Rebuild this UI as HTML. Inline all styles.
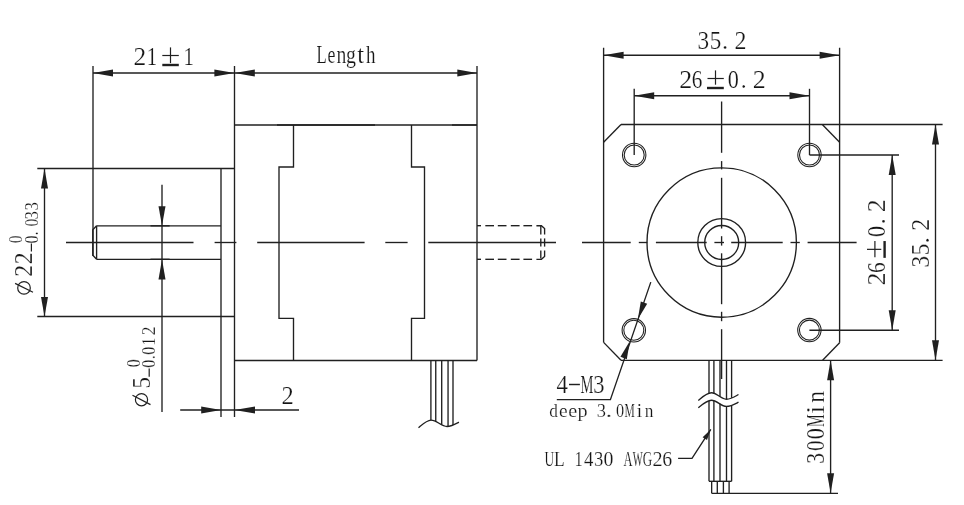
<!DOCTYPE html>
<html><head><meta charset="utf-8"><style>
html,body{margin:0;padding:0;background:#fff;width:964px;height:505px;overflow:hidden}
svg{display:block;filter:grayscale(1)}
text{font-family:"Liberation Serif",serif;fill:#151515;stroke:#fff;stroke-width:0.2px}
.m{font-family:"Liberation Mono",monospace}
</style></head><body>
<svg width="964" height="505" viewBox="0 0 964 505">
<rect width="964" height="505" fill="#fff"/>
<g stroke="#231f20" fill="none" stroke-linecap="butt">
<line x1="93" y1="66" x2="93" y2="256" stroke-width="1.35" />
<line x1="234.5" y1="66" x2="234.5" y2="417" stroke-width="1.35" />
<line x1="477" y1="66" x2="477" y2="360.5" stroke-width="1.35" />
<line x1="93" y1="73" x2="477" y2="73" stroke-width="1.35" />
<polygon points="93.00,73.00 113.00,69.50 113.00,76.50" fill="#231f20" stroke="none"/>
<polygon points="234.50,73.00 214.40,76.50 214.40,69.50" fill="#231f20" stroke="none"/>
<polygon points="234.50,73.00 254.80,69.50 254.80,76.50" fill="#231f20" stroke="none"/>
<polygon points="477.00,73.00 457.30,76.50 457.30,69.50" fill="#231f20" stroke="none"/>
<line x1="234.5" y1="125" x2="477" y2="125" stroke-width="1.35" />
<line x1="234.5" y1="360.5" x2="477" y2="360.5" stroke-width="1.35" />
<path d="M293.5,125 V167 H279 V318.3 H293.5 V360.5" stroke-width="1.35" fill="none"/>
<path d="M411.5,125 V167 H424.5 V318.3 H411.5 V360.5" stroke-width="1.35" fill="none"/>
<line x1="37.3" y1="168.5" x2="234.5" y2="168.5" stroke-width="1.35" />
<line x1="37.3" y1="316.5" x2="234.5" y2="316.5" stroke-width="1.35" />
<line x1="221" y1="168.5" x2="221" y2="417" stroke-width="1.35" />
<line x1="96.6" y1="225.8" x2="221" y2="225.8" stroke-width="1.35" />
<line x1="96.6" y1="259.3" x2="221" y2="259.3" stroke-width="1.35" />
<path d="M96.6,225.8 L92.8,229.8 V255.3 L96.6,259.3" stroke-width="1.35" fill="none"/>
<line x1="96.6" y1="225.8" x2="96.6" y2="259.3" stroke-width="1.35" />
<line x1="162" y1="184.8" x2="162" y2="412" stroke-width="1.35" />
<polygon points="162.00,225.80 158.50,206.20 165.50,206.20" fill="#231f20" stroke="none"/>
<polygon points="162.00,259.30 165.50,279.50 158.50,279.50" fill="#231f20" stroke="none"/>
<line x1="44.5" y1="168.5" x2="44.5" y2="316.5" stroke-width="1.35" />
<polygon points="44.50,168.50 48.00,188.60 41.00,188.60" fill="#231f20" stroke="none"/>
<polygon points="44.50,316.50 41.00,297.00 48.00,297.00" fill="#231f20" stroke="none"/>
<line x1="180.2" y1="410" x2="299" y2="410" stroke-width="1.35" />
<polygon points="221.00,410.00 201.20,413.50 201.20,406.50" fill="#231f20" stroke="none"/>
<polygon points="234.50,410.00 255.00,406.50 255.00,413.50" fill="#231f20" stroke="none"/>
<line x1="66" y1="242.5" x2="193.5" y2="242.5" stroke-width="1.35" />
<line x1="214.6" y1="242.5" x2="236.4" y2="242.5" stroke-width="1.35" />
<line x1="257.2" y1="242.5" x2="364.6" y2="242.5" stroke-width="1.35" />
<line x1="385.3" y1="242.5" x2="407.6" y2="242.5" stroke-width="1.35" />
<line x1="428.3" y1="242.5" x2="556" y2="242.5" stroke-width="1.35" />
<line x1="477" y1="225.7" x2="481" y2="225.7" stroke-width="1.35" />
<line x1="485.3" y1="225.7" x2="494" y2="225.7" stroke-width="1.35" />
<line x1="497.8" y1="225.7" x2="506.5" y2="225.7" stroke-width="1.35" />
<line x1="510.8" y1="225.7" x2="519.6" y2="225.7" stroke-width="1.35" />
<line x1="523.4" y1="225.7" x2="532.1" y2="225.7" stroke-width="1.35" />
<line x1="477" y1="259.3" x2="481" y2="259.3" stroke-width="1.35" />
<line x1="485.3" y1="259.3" x2="494" y2="259.3" stroke-width="1.35" />
<line x1="497.8" y1="259.3" x2="506.5" y2="259.3" stroke-width="1.35" />
<line x1="510.8" y1="259.3" x2="519.6" y2="259.3" stroke-width="1.35" />
<line x1="523.4" y1="259.3" x2="532.1" y2="259.3" stroke-width="1.35" />
<path d="M536.4,225.7 H541.4 L544.6,228.6 V234.6" stroke-width="1.35" fill="none"/>
<path d="M536.4,259.3 H541.4 L544.6,256.4 V250.4" stroke-width="1.35" fill="none"/>
<line x1="544.6" y1="238.4" x2="544.6" y2="246.6" stroke-width="1.35" />
<line x1="540.8" y1="225.8" x2="540.8" y2="234.6" stroke-width="1.35" />
<line x1="540.8" y1="238.4" x2="540.8" y2="246.6" stroke-width="1.35" />
<line x1="540.8" y1="250.4" x2="540.8" y2="258.6" stroke-width="1.35" />
<path d="M418.5,427.7 C424,423 427,420.1 431,420.1 C437,420.1 441,426.5 447,426.5 C451,426.5 455,424.3 458.9,422.2" stroke-width="1.35" fill="none"/>
<line x1="430.9" y1="360.5" x2="430.9" y2="420.2" stroke-width="1.35" />
<line x1="435.75" y1="360.5" x2="435.75" y2="421.4" stroke-width="1.35" />
<line x1="441.7" y1="360.5" x2="441.7" y2="424.5" stroke-width="1.35" />
<line x1="448.05" y1="360.5" x2="448.05" y2="426.2" stroke-width="1.35" />
<line x1="453" y1="360.5" x2="453" y2="425.0" stroke-width="1.35" />
<line x1="150.5" y1="225.8" x2="169.6" y2="225.8" stroke-width="1.35" />
<line x1="150.5" y1="259.3" x2="169.6" y2="259.3" stroke-width="1.35" />
<line x1="277" y1="125" x2="375" y2="125" stroke-width="1.35" />
<line x1="452" y1="125" x2="477" y2="125" stroke-width="1.35" />
<line x1="603.6" y1="47.8" x2="603.6" y2="342.4" stroke-width="1.35" />
<line x1="839.6" y1="47.8" x2="839.6" y2="342.8" stroke-width="1.35" />
<line x1="603.6" y1="55.2" x2="839.6" y2="55.2" stroke-width="1.35" />
<polygon points="603.60,55.20 623.60,51.70 623.60,58.70" fill="#231f20" stroke="none"/>
<polygon points="839.60,55.20 819.60,58.70 819.60,51.70" fill="#231f20" stroke="none"/>
<line x1="634.2" y1="88.8" x2="634.2" y2="155" stroke-width="1.35" />
<line x1="809.5" y1="88.8" x2="809.5" y2="155" stroke-width="1.35" />
<line x1="634.2" y1="95.7" x2="809.5" y2="95.7" stroke-width="1.35" />
<polygon points="634.20,95.70 654.20,92.20 654.20,99.20" fill="#231f20" stroke="none"/>
<polygon points="809.50,95.70 789.50,99.20 789.50,92.20" fill="#231f20" stroke="none"/>
<line x1="621" y1="124.5" x2="942.6" y2="124.5" stroke-width="1.35" />
<line x1="621" y1="360.3" x2="942.6" y2="360.3" stroke-width="1.35" />
<line x1="621" y1="124.5" x2="603.6" y2="142.2" stroke-width="1.35" />
<line x1="822.3" y1="124.5" x2="839.6" y2="142.2" stroke-width="1.35" />
<line x1="603.6" y1="342.4" x2="621" y2="360.3" stroke-width="1.35" />
<line x1="839.6" y1="342.8" x2="822.6" y2="360.3" stroke-width="1.35" />
<line x1="809.5" y1="155" x2="899" y2="155" stroke-width="1.35" />
<line x1="809.4" y1="330.2" x2="899" y2="330.2" stroke-width="1.35" />
<line x1="892.2" y1="155" x2="892.2" y2="330.2" stroke-width="1.35" />
<polygon points="892.20,155.00 895.70,175.00 888.70,175.00" fill="#231f20" stroke="none"/>
<polygon points="892.20,330.20 888.70,310.20 895.70,310.20" fill="#231f20" stroke="none"/>
<line x1="935.5" y1="124.5" x2="935.5" y2="360.3" stroke-width="1.35" />
<polygon points="935.50,124.50 939.00,144.50 932.00,144.50" fill="#231f20" stroke="none"/>
<polygon points="935.50,360.30 932.00,340.30 939.00,340.30" fill="#231f20" stroke="none"/>
<circle cx="634.2" cy="155" r="11.7" stroke-width="1.08" fill="none"/>
<circle cx="634.2" cy="155" r="10.0" stroke-width="1.08" fill="none"/>
<circle cx="809.5" cy="155" r="11.7" stroke-width="1.08" fill="none"/>
<circle cx="809.5" cy="155" r="10.0" stroke-width="1.08" fill="none"/>
<circle cx="633.8" cy="330.3" r="11.7" stroke-width="1.08" fill="none"/>
<circle cx="633.8" cy="330.3" r="10.0" stroke-width="1.08" fill="none"/>
<circle cx="809.4" cy="330.1" r="11.7" stroke-width="1.08" fill="none"/>
<circle cx="809.4" cy="330.1" r="10.0" stroke-width="1.08" fill="none"/>
<circle cx="721.7" cy="242.5" r="74.7" stroke-width="1.35" fill="none"/>
<circle cx="721.7" cy="242.5" r="23.9" stroke-width="1.35" fill="none"/>
<circle cx="721.7" cy="242.5" r="17" stroke-width="1.35" fill="none"/>
<line x1="582" y1="242.5" x2="630.7" y2="242.5" stroke-width="1.35" />
<line x1="638.8" y1="242.5" x2="647.4" y2="242.5" stroke-width="1.35" />
<line x1="655.9" y1="242.5" x2="706.7" y2="242.5" stroke-width="1.35" />
<line x1="714.4" y1="242.5" x2="724" y2="242.5" stroke-width="1.35" />
<line x1="731.2" y1="242.5" x2="782.7" y2="242.5" stroke-width="1.35" />
<line x1="790.5" y1="242.5" x2="799.8" y2="242.5" stroke-width="1.35" />
<line x1="807.6" y1="242.5" x2="856.6" y2="242.5" stroke-width="1.35" />
<line x1="721.6" y1="101.5" x2="721.6" y2="152.8" stroke-width="1.35" />
<line x1="721.6" y1="161.1" x2="721.6" y2="169.4" stroke-width="1.35" />
<line x1="721.6" y1="177.8" x2="721.6" y2="228.5" stroke-width="1.35" />
<line x1="721.6" y1="236.2" x2="721.6" y2="245.6" stroke-width="1.35" />
<line x1="721.6" y1="253.3" x2="721.6" y2="304.2" stroke-width="1.35" />
<line x1="721.6" y1="311.8" x2="721.6" y2="321.2" stroke-width="1.35" />
<line x1="721.6" y1="329.2" x2="721.6" y2="379" stroke-width="1.35" />
<path d="M698.3,400.4 C703,396.5 707,392.7 711.4,392.7 C717,392.7 721,399.2 726.4,399.2 C731,399.2 735,396.5 738.5,394.5" stroke-width="1.35" fill="none"/>
<path d="M698.3,407.7 C703,403.8 707,400.2 711.4,400.2 C717,400.2 721,406.4 726.4,406.4 C731,406.4 735,404 738.5,402.2" stroke-width="1.35" fill="none"/>
<line x1="709" y1="360.3" x2="709" y2="393.6" stroke-width="1.35" />
<line x1="709" y1="401.0" x2="709" y2="481.3" stroke-width="1.35" />
<line x1="713.9" y1="360.3" x2="713.9" y2="393.4" stroke-width="1.35" />
<line x1="713.9" y1="400.8" x2="713.9" y2="481.3" stroke-width="1.35" />
<line x1="720" y1="360.3" x2="720" y2="396.4" stroke-width="1.35" />
<line x1="720" y1="403.8" x2="720" y2="481.3" stroke-width="1.35" />
<line x1="726.5" y1="360.3" x2="726.5" y2="399.2" stroke-width="1.35" />
<line x1="726.5" y1="406.6" x2="726.5" y2="481.3" stroke-width="1.35" />
<line x1="731.6" y1="360.3" x2="731.6" y2="397.9" stroke-width="1.35" />
<line x1="731.6" y1="405.3" x2="731.6" y2="481.3" stroke-width="1.35" />
<line x1="709" y1="481.3" x2="731.6" y2="481.3" stroke-width="1.35" />
<line x1="711.65" y1="481.3" x2="711.65" y2="493.3" stroke-width="1.35" />
<line x1="717.3" y1="481.3" x2="717.3" y2="493.3" stroke-width="1.35" />
<line x1="723.4" y1="481.3" x2="723.4" y2="493.3" stroke-width="1.35" />
<line x1="729.1" y1="481.3" x2="729.1" y2="493.3" stroke-width="1.35" />
<line x1="711.65" y1="493.3" x2="838" y2="493.3" stroke-width="1.35" />
<line x1="830.6" y1="360.3" x2="830.6" y2="493.3" stroke-width="1.35" />
<polygon points="830.60,360.30 834.10,380.30 827.10,380.30" fill="#231f20" stroke="none"/>
<polygon points="830.60,493.30 827.10,473.30 834.10,473.30" fill="#231f20" stroke="none"/>
<path d="M678.1,458.4 H692 L710.8,429.4" stroke-width="1.35" fill="none"/>
<polygon points="710.80,429.40 706.98,440.02 702.62,437.18" fill="#231f20" stroke="none"/>
<path d="M556.8,399.6 H610.4 L650.8,282.1" stroke-width="1.35" fill="none"/>
<polygon points="637.84,319.33 640.79,301.46 647.17,303.80" fill="#231f20" stroke="none"/>
<polygon points="629.76,341.27 626.81,359.14 620.43,356.80" fill="#231f20" stroke="none"/>
</g>
<g transform="translate(139.80,65.00) scale(0.998,1)"><text x="-6.23" y="0" font-size="25.5">2</text></g>
<g transform="translate(152.15,65.00) scale(0.813,1)"><text x="-6.73" y="0" font-size="25.5">1</text></g>
<g transform="translate(188.85,65.00) scale(0.813,1)"><text x="-6.73" y="0" font-size="25.5">1</text></g>
<line x1="162.3" y1="55.5" x2="178.8" y2="55.5" stroke="#231f20" stroke-width="1.20"/>
<line x1="170.5" y1="47.4" x2="170.5" y2="63.1" stroke="#231f20" stroke-width="1.20"/>
<line x1="162.3" y1="65" x2="178.8" y2="65" stroke="#231f20" stroke-width="2.40"/>
<g transform="translate(321.45,62.70) scale(0.654,1)"><text x="-7.39" y="0" font-size="25.5">L</text></g>
<g transform="translate(331.60,62.70) scale(0.699,1)"><text x="-5.72" y="0" font-size="25.5">e</text></g>
<g transform="translate(341.55,62.70) scale(0.773,1)"><text x="-6.47" y="0" font-size="25.5">n</text></g>
<g transform="translate(351.25,62.70) scale(0.779,1)"><text x="-6.68" y="0" font-size="25.5">g</text></g>
<g transform="translate(360.65,62.70) scale(0.972,1)"><text x="-3.59" y="0" font-size="25.5">t</text></g>
<g transform="translate(370.65,62.70) scale(0.748,1)"><text x="-6.33" y="0" font-size="25.5">h</text></g>
<g transform="translate(287.40,403.50) scale(0.959,1)"><text x="-6.23" y="0" font-size="25.5">2</text></g>
<g transform="translate(703.40,48.70) scale(0.911,1)"><text x="-6.49" y="0" font-size="25.5">3</text></g>
<g transform="translate(715.75,48.70) scale(0.905,1)"><text x="-6.62" y="0" font-size="25.5">5</text></g>
<g transform="translate(725.00,48.70) scale(0.962,1)"><text x="-3.19" y="0" font-size="25.5">.</text></g>
<g transform="translate(740.30,48.70) scale(0.939,1)"><text x="-6.23" y="0" font-size="25.5">2</text></g>
<g transform="translate(685.60,87.90) scale(1.017,1)"><text x="-6.23" y="0" font-size="25.5">2</text></g>
<g transform="translate(697.20,87.90) scale(0.835,1)"><text x="-6.54" y="0" font-size="25.5">6</text></g>
<g transform="translate(733.40,87.90) scale(0.870,1)"><text x="-6.38" y="0" font-size="25.5">0</text></g>
<g transform="translate(743.60,87.90) scale(0.929,1)"><text x="-3.19" y="0" font-size="25.5">.</text></g>
<g transform="translate(759.00,87.90) scale(1.017,1)"><text x="-6.23" y="0" font-size="25.5">2</text></g>
<line x1="707.5" y1="78.5" x2="723.8" y2="78.5" stroke="#231f20" stroke-width="1.20"/>
<line x1="715.5" y1="70.4" x2="715.5" y2="84.7" stroke="#231f20" stroke-width="1.20"/>
<line x1="707" y1="88" x2="723.8" y2="88" stroke="#231f20" stroke-width="2.40"/>
<g transform="translate(884.50,279.25) rotate(-90) scale(1.017,1)"><text x="-6.23" y="0" font-size="25.5">2</text></g>
<g transform="translate(884.50,267.65) rotate(-90) scale(0.835,1)"><text x="-6.54" y="0" font-size="25.5">6</text></g>
<g transform="translate(884.50,231.45) rotate(-90) scale(0.870,1)"><text x="-6.38" y="0" font-size="25.5">0</text></g>
<g transform="translate(884.50,221.25) rotate(-90) scale(0.929,1)"><text x="-3.19" y="0" font-size="25.5">.</text></g>
<g transform="translate(884.50,205.85) rotate(-90) scale(1.017,1)"><text x="-6.23" y="0" font-size="25.5">2</text></g>
<line x1="874.9" y1="257.34999999999997" x2="874.9" y2="241.05" stroke="#231f20" stroke-width="1.20"/>
<line x1="867" y1="249.34999999999997" x2="881.3" y2="249.34999999999997" stroke="#231f20" stroke-width="1.20"/>
<line x1="884.6" y1="257.84999999999997" x2="884.6" y2="241.05" stroke="#231f20" stroke-width="2.40"/>
<g transform="translate(929.00,261.70) rotate(-90) scale(0.911,1)"><text x="-6.49" y="0" font-size="25.5">3</text></g>
<g transform="translate(929.00,249.35) rotate(-90) scale(0.905,1)"><text x="-6.62" y="0" font-size="25.5">5</text></g>
<g transform="translate(929.00,240.10) rotate(-90) scale(0.962,1)"><text x="-3.19" y="0" font-size="25.5">.</text></g>
<g transform="translate(929.00,224.80) rotate(-90) scale(0.939,1)"><text x="-6.23" y="0" font-size="25.5">2</text></g>
<circle cx="24" cy="287.9" r="6.3" stroke="#231f20" stroke-width="1.20" fill="none"/>
<line x1="15.1" y1="283.4" x2="33" y2="292.3" stroke="#231f20" stroke-width="1.20"/>
<g transform="translate(32.40,271.00) rotate(-90) scale(0.929,1)"><text x="-6.23" y="0" font-size="25.5">2</text></g>
<g transform="translate(32.40,258.50) rotate(-90) scale(0.929,1)"><text x="-6.23" y="0" font-size="25.5">2</text></g>
<line x1="31.4" y1="243.4" x2="31.4" y2="251.6" stroke="#231f20" stroke-width="1.20"/>
<g transform="translate(37.60,239.50) rotate(-90) scale(0.867,1)"><text x="-4.62" y="0" font-size="18.5">0</text></g>
<g transform="translate(37.60,233.30) rotate(-90) scale(0.915,1)"><text x="-2.31" y="0" font-size="18.5">.</text></g>
<g transform="translate(37.60,222.60) rotate(-90) scale(0.842,1)"><text x="-4.62" y="0" font-size="18.5">0</text></g>
<g transform="translate(37.60,215.10) rotate(-90) scale(0.916,1)"><text x="-4.71" y="0" font-size="18.5">3</text></g>
<g transform="translate(37.60,206.20) rotate(-90) scale(0.916,1)"><text x="-4.71" y="0" font-size="18.5">3</text></g>
<g transform="translate(21.60,239.25) rotate(-90) scale(0.842,1)"><text x="-4.62" y="0" font-size="18.5">0</text></g>
<circle cx="141.5" cy="399.7" r="6.1" stroke="#231f20" stroke-width="1.20" fill="none"/>
<line x1="132.5" y1="395.3" x2="150.5" y2="404.6" stroke="#231f20" stroke-width="1.20"/>
<g transform="translate(150.00,382.50) rotate(-90) scale(0.896,1)"><text x="-6.62" y="0" font-size="25.5">5</text></g>
<line x1="149.2" y1="368.6" x2="149.2" y2="376.8" stroke="#231f20" stroke-width="1.20"/>
<g transform="translate(155.40,363.70) rotate(-90) scale(0.867,1)"><text x="-4.62" y="0" font-size="18.5">0</text></g>
<g transform="translate(155.40,357.20) rotate(-90) scale(0.915,1)"><text x="-2.31" y="0" font-size="18.5">.</text></g>
<g transform="translate(155.40,350.70) rotate(-90) scale(0.867,1)"><text x="-4.62" y="0" font-size="18.5">0</text></g>
<g transform="translate(155.40,341.40) rotate(-90) scale(0.844,1)"><text x="-4.88" y="0" font-size="18.5">1</text></g>
<g transform="translate(155.40,331.10) rotate(-90) scale(0.944,1)"><text x="-4.52" y="0" font-size="18.5">2</text></g>
<g transform="translate(139.60,363.20) rotate(-90) scale(0.867,1)"><text x="-4.62" y="0" font-size="18.5">0</text></g>
<g transform="translate(823.80,458.15) rotate(-90) scale(0.845,1)"><text x="-6.49" y="0" font-size="25.5">3</text></g>
<g transform="translate(823.80,445.75) rotate(-90) scale(0.823,1)"><text x="-6.38" y="0" font-size="25.5">0</text></g>
<g transform="translate(823.80,433.60) rotate(-90) scale(0.870,1)"><text x="-6.38" y="0" font-size="25.5">0</text></g>
<g transform="translate(823.80,420.65) rotate(-90) scale(0.562,1)"><text x="-11.33" y="0" font-size="25.5">M</text></g>
<g transform="translate(823.80,409.75) rotate(-90) scale(1.138,1)"><text x="-3.57" y="0" font-size="25.5">i</text></g>
<g transform="translate(823.80,396.85) rotate(-90) scale(0.925,1)"><text x="-6.47" y="0" font-size="25.5">n</text></g>
<g transform="translate(562.20,392.80) scale(0.894,1)"><text x="-6.42" y="0" font-size="25.5">4</text></g>
<g transform="translate(586.95,392.80) scale(0.571,1)"><text x="-11.33" y="0" font-size="25.5">M</text></g>
<g transform="translate(599.05,392.80) scale(0.883,1)"><text x="-6.49" y="0" font-size="25.5">3</text></g>
<line x1="569" y1="384.5" x2="579.9" y2="384.5" stroke="#231f20" stroke-width="1.44"/>
<g transform="translate(553.70,417.10) scale(0.872,1)"><text x="-5.19" y="0" font-size="19.8">d</text></g>
<g transform="translate(563.30,417.10) scale(0.982,1)"><text x="-4.44" y="0" font-size="19.8">e</text></g>
<g transform="translate(572.75,417.10) scale(1.023,1)"><text x="-4.44" y="0" font-size="19.8">e</text></g>
<g transform="translate(582.20,417.10) scale(1.022,1)"><text x="-4.72" y="0" font-size="19.8">p</text></g>
<g transform="translate(601.50,417.10) scale(0.929,1)"><text x="-5.04" y="0" font-size="19.8">3</text></g>
<g transform="translate(608.80,417.10) scale(1.282,1)"><text x="-2.48" y="0" font-size="19.8">.</text></g>
<g transform="translate(620.05,417.10) scale(0.822,1)"><text x="-4.95" y="0" font-size="19.8">0</text></g>
<g transform="translate(629.70,417.10) scale(0.583,1)"><text x="-8.80" y="0" font-size="19.8">M</text></g>
<g transform="translate(639.50,417.10) scale(0.977,1)"><text x="-2.77" y="0" font-size="19.8">i</text></g>
<g transform="translate(649.10,417.10) scale(0.875,1)"><text x="-5.03" y="0" font-size="19.8">n</text></g>
<g transform="translate(549.25,465.80) scale(0.637,1)"><text x="-7.58" y="0" font-size="21">U</text></g>
<g transform="translate(559.05,465.80) scale(0.830,1)"><text x="-6.09" y="0" font-size="21">L</text></g>
<g transform="translate(578.90,465.80) scale(0.785,1)"><text x="-5.54" y="0" font-size="21">1</text></g>
<g transform="translate(588.65,465.80) scale(0.891,1)"><text x="-5.29" y="0" font-size="21">4</text></g>
<g transform="translate(598.65,465.80) scale(0.888,1)"><text x="-5.34" y="0" font-size="21">3</text></g>
<g transform="translate(608.50,465.80) scale(0.944,1)"><text x="-5.25" y="0" font-size="21">0</text></g>
<g transform="translate(627.90,465.80) scale(0.594,1)"><text x="-7.61" y="0" font-size="21">A</text></g>
<g transform="translate(637.70,465.80) scale(0.506,1)"><text x="-9.90" y="0" font-size="21">W</text></g>
<g transform="translate(647.65,465.80) scale(0.623,1)"><text x="-7.69" y="0" font-size="21">G</text></g>
<g transform="translate(657.45,465.80) scale(0.962,1)"><text x="-5.13" y="0" font-size="21">2</text></g>
<g transform="translate(667.25,465.80) scale(0.947,1)"><text x="-5.39" y="0" font-size="21">6</text></g>
</svg></body></html>
